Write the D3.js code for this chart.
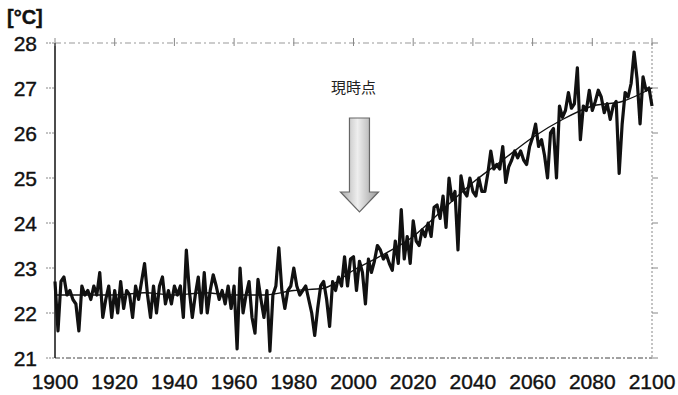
<!DOCTYPE html>
<html>
<head>
<meta charset="utf-8">
<script src="https://cdn.jsdelivr.net/npm/d3@7"></script>
<style>
  body { margin: 0; background: #fff; }
  svg { display: block; }
  .lbl { font-family: "Liberation Sans", Arial, sans-serif; font-size: 21px; fill: #111; stroke: #111; stroke-width: 0.4; }
</style>
</head>
<body>
<svg id="chart" width="678" height="395"></svg>
<script>
// yearly mean temperature, 1900-2100
const startYear = 1900;
const annual = [
  22.7, 21.6, 22.7, 22.8, 22.4, 22.5, 22.3, 22.2, 21.6, 22.6,
  22.4, 22.5, 22.3, 22.6, 22.4, 22.9, 21.9, 22.3, 22.6, 21.9,
  22.5, 22.0, 22.7, 22.1, 22.5, 22.4, 21.9, 22.6, 22.3, 22.7,
  23.1, 22.4, 21.9, 22.6, 22.0, 22.6, 22.8, 22.2, 22.5, 22.2,
  22.6, 22.4, 22.6, 21.9, 23.4, 22.5, 21.9, 22.4, 22.8, 22.0,
  22.9, 22.0, 22.5, 22.85, 22.6, 22.3, 22.5, 22.2, 22.6, 22.1,
  22.6, 21.2, 23.0, 22.0, 22.4, 22.7, 21.9, 21.55, 22.75, 22.3,
  21.9, 22.5, 21.15, 22.4, 22.6, 23.45, 22.5, 22.1, 22.5, 22.6,
  23.0, 22.6, 22.4, 22.5, 22.6, 22.3, 22.0, 21.5, 22.1, 22.6,
  22.7, 22.3, 21.7, 22.7, 22.5, 22.8, 22.6, 23.25, 22.6, 23.2,
  23.25, 22.5, 23.15, 22.9, 22.2, 23.2, 22.9, 23.15, 23.5, 23.4,
  23.2, 23.3, 23.1, 22.95, 23.6, 23.1, 24.3, 23.2, 23.7, 23.1,
  24.05, 23.6, 23.5, 23.85, 23.7, 24.0, 23.7, 24.35, 24.4, 24.1,
  24.6, 23.9, 25.0, 24.5, 24.7, 23.4, 25.05, 24.7, 24.6, 25.0,
  24.7, 24.6, 25.0, 24.7, 24.7, 25.1, 25.6, 25.2, 25.3, 25.2,
  25.7, 24.9, 25.25, 25.4, 25.6, 25.45, 25.6, 25.4, 25.3, 25.7,
  25.9, 26.2, 25.7, 25.85, 25.5, 25.0, 26.0, 26.1, 25.0, 26.6,
  26.35, 26.5, 26.9, 26.55, 26.65, 27.45, 25.85, 26.6, 26.5, 26.95,
  26.5, 26.7, 26.95, 26.8, 26.45, 26.65, 26.3, 26.6, 26.7, 25.1,
  26.2, 26.9, 26.8, 27.1, 27.8, 27.2, 26.2, 27.25, 26.95, 27.0,
  26.6
];

// smoothed trend, read every 10 years
const trendYears = [1900, 1910, 1920, 1930, 1940, 1950, 1960, 1970, 1980, 1990, 2000,
                    2010, 2020, 2030, 2040, 2050, 2060, 2070, 2080, 2090, 2100];
const trendVals  = [22.4, 22.4, 22.4, 22.45, 22.4, 22.45, 22.4, 22.4, 22.5, 22.55, 22.95,
                    23.3, 23.7, 24.3, 24.9, 25.4, 25.9, 26.3, 26.6, 26.7, 27.0];

const xTicks = [1900, 1920, 1940, 1960, 1980, 2000, 2020, 2040, 2060, 2080, 2100];
const yTicks = [21, 22, 23, 24, 25, 26, 27, 28];
const unitLabel = "[°C]";
const noteLabel = "現時点";
const nowYear = 2002;

const svg = d3.select("#chart");
const x = d3.scaleLinear().domain([1900, 2100]).range([55, 652]);
const y = d3.scaleLinear().domain([21, 28]).range([358, 43]);

// frame: dashed top / right / bottom, solid left
svg.append("line").attr("x1", 55).attr("x2", 652).attr("y1", y(28)).attr("y2", y(28))
  .attr("stroke", "#999").attr("stroke-dasharray", "6,3,2,3");
svg.append("line").attr("x1", 652).attr("x2", 652).attr("y1", y(28)).attr("y2", y(21))
  .attr("stroke", "#888").attr("stroke-dasharray", "2,2");
svg.append("line").attr("x1", 55).attr("x2", 652).attr("y1", y(21)).attr("y2", y(21))
  .attr("stroke", "#444").attr("stroke-dasharray", "5,2,2,2");
svg.append("line").attr("x1", 55).attr("x2", 55).attr("y1", y(28)).attr("y2", y(21))
  .attr("stroke", "#111").attr("stroke-width", 1.5);

// small ticks
svg.selectAll(".ltick").data(yTicks).join("line")
  .attr("x1", 46).attr("x2", 55).attr("y1", d => y(d)).attr("y2", d => y(d))
  .attr("stroke", "#888").attr("stroke-dasharray", "2,1");
svg.selectAll(".rtick").data(yTicks).join("line")
  .attr("x1", 652).attr("x2", 658).attr("y1", d => y(d)).attr("y2", d => y(d))
  .attr("stroke", "#888");
svg.selectAll(".ttick").data(xTicks).join("line")
  .attr("x1", d => x(d)).attr("x2", d => x(d)).attr("y1", y(28) - 5).attr("y2", y(28) + 3)
  .attr("stroke", "#888");

// labels
svg.selectAll(".ylab").data(yTicks).join("text")
  .attr("class", "lbl").attr("x", 37).attr("y", d => y(d) + 7.5)
  .attr("text-anchor", "end").text(d => d);
svg.selectAll(".xlab").data(xTicks).join("text")
  .attr("class", "lbl").attr("x", d => x(d)).attr("y", 389)
  .attr("text-anchor", "middle").text(d => d);
svg.append("text").attr("class", "lbl").attr("x", 7).attr("y", 24)
  .style("font-size", "20px").style("font-weight", "bold").text(unitLabel);

// arrow for "now"
const defs = svg.append("defs");
const grad = defs.append("linearGradient").attr("id", "ag").attr("x1", 0).attr("x2", 1);
grad.append("stop").attr("offset", "0%").attr("stop-color", "#aaa");
grad.append("stop").attr("offset", "45%").attr("stop-color", "#eee");
grad.append("stop").attr("offset", "100%").attr("stop-color", "#999");
const ax = x(nowYear);
const arrow = d3.path();
arrow.moveTo(ax - 10, 118); arrow.lineTo(ax + 10, 118); arrow.lineTo(ax + 10, 192);
arrow.lineTo(ax + 19, 192); arrow.lineTo(ax, 212); arrow.lineTo(ax - 19, 192);
arrow.lineTo(ax - 10, 192); arrow.closePath();
svg.append("path").attr("d", arrow.toString()).attr("fill", "url(#ag)")
  .attr("stroke", "#666").attr("stroke-width", 1.2);
svg.append("text").attr("x", ax - 6).attr("y", 93).attr("text-anchor", "middle")
  .style("font-family", "'Noto Sans CJK JP', sans-serif").style("font-size", "15px")
  .style("fill", "#222").text(noteLabel);

// series
const annualLine = d3.line().x((d, i) => x(startYear + i)).y(d => y(d));
svg.append("path").datum(annual).attr("d", annualLine)
  .attr("fill", "none").attr("stroke", "#111").attr("stroke-width", 3.2)
  .attr("stroke-linejoin", "round");

const trendLine = d3.line().x((d, i) => x(trendYears[i])).y(d => y(d)).curve(d3.curveMonotoneX);
svg.append("path").datum(trendVals).attr("d", trendLine)
  .attr("fill", "none").attr("stroke", "#111").attr("stroke-width", 1.4);
</script>
</body>
</html>
